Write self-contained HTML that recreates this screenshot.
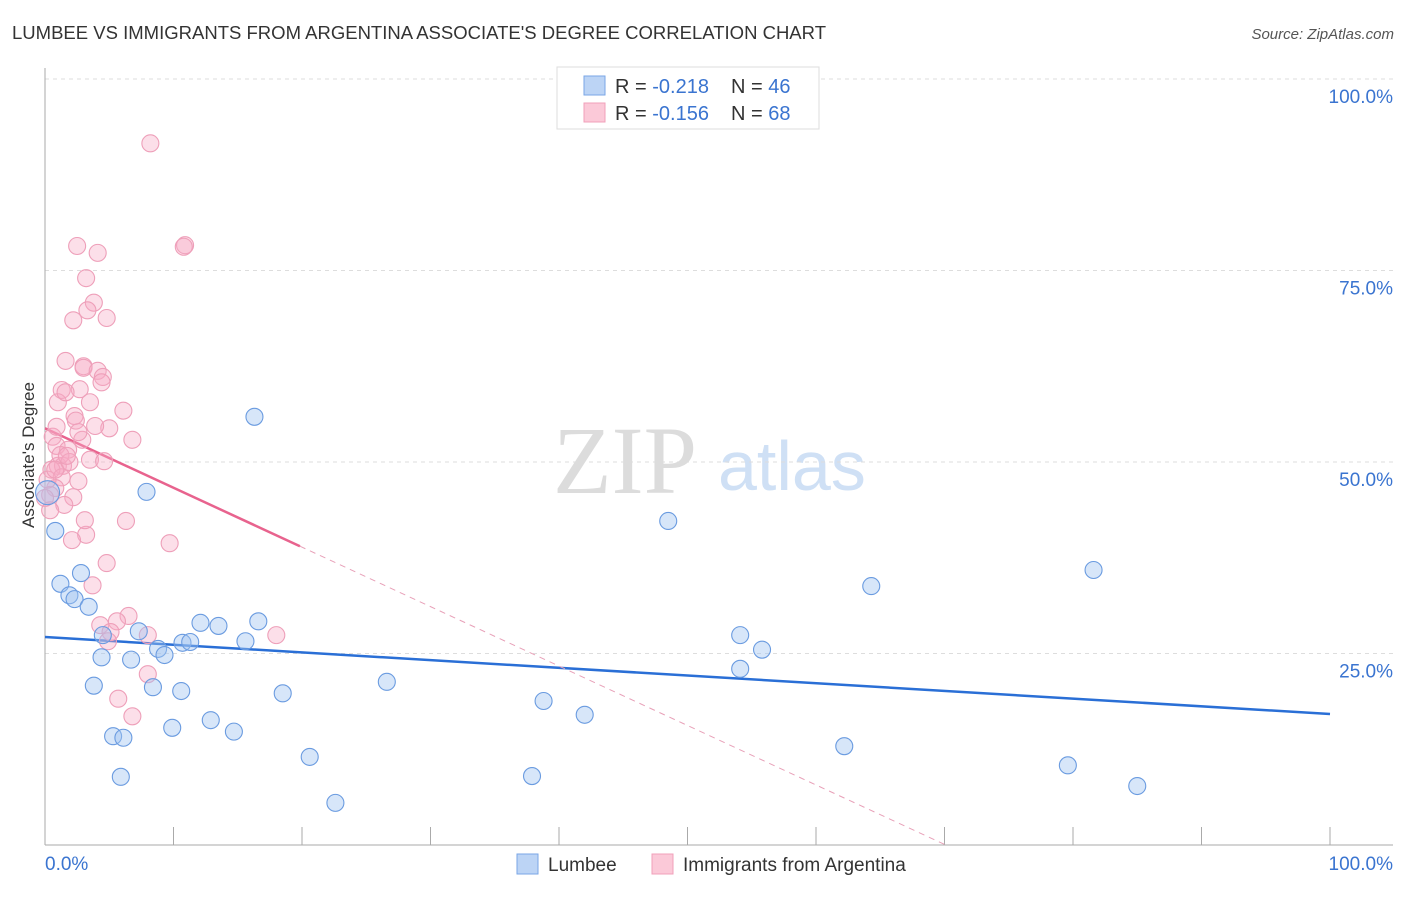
<!DOCTYPE html>
<html><head><meta charset="utf-8"><style>
body{margin:0;background:#fff;font-family:"Liberation Sans",sans-serif;}
</style></head><body>
<svg id="chart" width="1406" height="892" xmlns="http://www.w3.org/2000/svg">
<text x="12" y="39" font-size="18" fill="#333" textLength="814" lengthAdjust="spacingAndGlyphs">LUMBEE VS IMMIGRANTS FROM ARGENTINA ASSOCIATE'S DEGREE CORRELATION CHART</text>
<text x="1394" y="39" font-size="15" fill="#555" font-style="italic" text-anchor="end">Source: ZipAtlas.com</text>
<g>
<text x="553" y="493" font-size="96" font-family="Liberation Serif,serif" fill="#dcdcdc">ZIP</text>
<text x="718" y="490" font-size="70" fill="#cfe0f5">atlas</text>
</g>
<g id="grid"></g>
<g id="axes"></g>
<g id="trend"></g>
<g id="pts"></g>
<text transform="translate(34,455) rotate(-90)" font-size="17" fill="#333" text-anchor="middle">Associate's Degree</text>
<g>
<rect x="557" y="67" width="262" height="62" fill="#fff" stroke="#ddd"/>
<rect x="584" y="76" width="21" height="19" fill="#bcd4f5" stroke="#7aa6e6"/>
<rect x="584" y="103" width="21" height="19" fill="#fbc9d8" stroke="#f0a0ba"/>
<text x="615" y="93" font-size="20" fill="#333">R = <tspan fill="#3a74d0">-0.218</tspan><tspan x="731">N = </tspan><tspan fill="#3a74d0">46</tspan></text>
<text x="615" y="120" font-size="20" fill="#333">R = <tspan fill="#3a74d0">-0.156</tspan><tspan x="731">N = </tspan><tspan fill="#3a74d0">68</tspan></text>
</g>
<g>
<rect x="517" y="854" width="21" height="20" fill="#bcd4f5" stroke="#7aa6e6"/>
<text x="548" y="871" font-size="19" fill="#333">Lumbee</text>
<rect x="652" y="854" width="21" height="20" fill="#fbc9d8" stroke="#f0a0ba"/>
<text x="683" y="871" font-size="19" fill="#333">Immigrants from Argentina</text>
</g>
</svg>
<script>
const blueX=[0.2,0.8,1.2,1.9,2.3,2.8,3.4,4.5,4.4,3.8,5.3,6.1,5.9,6.7,7.3,7.9,8.4,8.8,9.3,9.9,10.6,10.7,11.3,12.1,12.9,13.5,14.7,15.6,16.3,16.6,18.5,20.6,22.6,26.6,37.9,38.8,42.0,48.5,54.1,54.1,55.8,62.2,64.3,79.6,81.6,85.0];
const blueY=[46.0,41.0,34.1,32.6,32.1,35.5,31.1,27.4,24.5,20.8,14.2,14.0,8.9,24.2,27.9,46.1,20.6,25.6,24.8,15.3,20.1,26.4,26.5,29.0,16.3,28.6,14.8,26.6,55.9,29.2,19.8,11.5,5.5,21.3,9.0,18.8,17.0,42.3,27.4,23.0,25.5,12.9,33.8,10.4,35.9,7.7];
const pinkX=[8.2,10.9,10.8,2.5,4.1,3.2,3.8,3.3,4.8,2.2,1.6,3.0,3.0,4.1,4.5,4.4,1.3,2.7,1.0,3.5,6.1,2.3,2.4,5.0,3.9,0.6,2.9,6.8,0.9,1.8,3.5,4.6,1.0,1.4,0.5,1.3,2.6,0.8,2.2,1.5,0.4,3.2,2.1,6.3,9.7,4.8,3.7,6.5,5.6,4.3,5.1,8.0,4.9,18.0,8.0,5.7,6.8,0.0,0.2,1.2,0.8,1.9,0.4,1.7,2.6,0.9,1.6,3.1];
const pinkY=[91.6,78.3,78.1,78.2,77.3,74.0,70.8,69.8,68.8,68.5,63.2,62.5,62.3,61.9,61.1,60.4,59.4,59.5,57.8,57.8,56.7,56.0,55.4,54.4,54.7,53.3,52.9,52.9,52.1,51.6,50.3,50.1,49.5,49.5,49.0,48.0,47.5,46.6,45.4,44.4,45.7,40.5,39.8,42.3,39.4,36.8,33.9,29.9,29.2,28.7,27.8,27.4,26.6,27.4,22.3,19.1,16.8,45.3,47.7,50.9,49.0,50.0,43.7,50.8,53.9,54.6,59.1,42.4];
const yTicks=[25,50,75,100];
const yTickLabels=["25.0%","50.0%","75.0%","100.0%"];
const blueTrend=[27.15,17.1];
const pinkTrend=[54.4,-0.776];
const NS="http://www.w3.org/2000/svg";
const sx=v=>45+v*12.85, sy=v=>845-v*7.66;
function mk(tag,attrs,parent){const e=document.createElementNS(NS,tag);for(const k in attrs)e.setAttribute(k,attrs[k]);document.getElementById(parent).appendChild(e);return e;}
yTicks.forEach((t,i)=>{
 const g=mk('line',{x1:45,x2:1393,y1:sy(t),y2:sy(t),stroke:'#ddd','stroke-dasharray':'4,4'},'grid');
 
 
 const l=mk('text',{x:1393,y:sy(t)+24,'font-size':19,fill:'#3a74d0','text-anchor':'end'},'grid');
 l.textContent=yTickLabels[i];
 
 
});
const ya=mk('line',{x1:45,x2:45,y1:68,y2:845,stroke:'#aaa'},'axes');


const xa=mk('line',{x1:45,x2:1393,y1:845,y2:845,stroke:'#aaa'},'axes');


for(let t=10;t<=100;t+=10){const k=mk('line',{x1:sx(t),x2:sx(t),y1:827,y2:845,stroke:'#aaa'},'axes');
 
 }
const xl0=mk('text',{x:45,y:870,'font-size':19,fill:'#3a74d0'},'axes');xl0.textContent='0.0%';


const xl1=mk('text',{x:1393,y:870,'font-size':19,fill:'#3a74d0','text-anchor':'end'},'axes');xl1.textContent='100.0%';


function dot(x,y,fill,stroke,name,r){const c=mk('circle',{cx:sx(x),cy:sy(y),r:r,fill:fill,stroke:stroke,'stroke-width':1.1},'pts');
 
 }
pinkX.forEach((x,i)=>dot(x,pinkY[i],'rgba(246,170,196,0.38)','#ee9fb9','argentina-point',8.5));
blueX.forEach((x,i)=>dot(x,blueY[i],'rgba(160,195,240,0.42)','#6a9be0','lumbee-point',i===0?12:8.5));
const bt=mk('line',{x1:sx(0),y1:sy(blueTrend[0]),x2:sx(100),y2:sy(blueTrend[1]),stroke:'#2a6fd6','stroke-width':2.5},'trend');


const pe=19.84;
const pt=mk('line',{x1:sx(0),y1:sy(pinkTrend[0]),x2:sx(pe),y2:sy(pinkTrend[0]+pinkTrend[1]*pe),stroke:'#e8638e','stroke-width':2.5},'trend');


const pd=mk('line',{x1:sx(pe),y1:sy(pinkTrend[0]+pinkTrend[1]*pe),x2:sx(70),y2:sy(pinkTrend[0]+pinkTrend[1]*70),stroke:'#e8a0b8','stroke-width':1,'stroke-dasharray':'6,5'},'trend');


</script>
</body></html>
